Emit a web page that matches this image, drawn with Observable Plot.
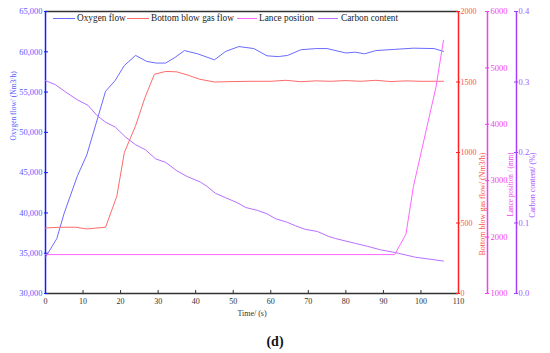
<!DOCTYPE html>
<html><head><meta charset="utf-8">
<script src="https://cdn.jsdelivr.net/npm/d3@7"></script>
<script src="https://cdn.jsdelivr.net/npm/@observablehq/plot@0.6"></script>
<style>
body{margin:0;background:#fff;font-family:"Liberation Serif","Times New Roman",Times,serif;}
#wrap{position:relative;width:550px;height:325px;}
#wrap svg{position:absolute;left:0;top:0;}
.leg{position:absolute;font-size:9.3px;color:#222;line-height:12px;top:12px;white-space:nowrap;}
.sw{position:absolute;height:0;top:18px;border-top:1px solid;}
#cap{width:550px;text-align:center;font-weight:bold;font-size:14px;line-height:16px;margin-top:9px;color:#111;}
</style>
</head><body>
<div id="wrap"></div>
<div id="cap">(d)</div>
<script>
// ---- data ----
const seriesNames = ["Oxygen flow", "Bottom blow gas flow", "Lance position", "Carbon content"];
const oxygenTime = [0, 3, 5, 8.5, 11, 16, 18.5, 21, 24, 27, 29.5, 32, 34.5, 37, 40.5, 45, 48, 51.5, 55.5, 59, 62, 64.5, 68, 72, 75, 80, 82.5, 85, 88, 93, 98, 103.5, 106];
const oxygenFlow = [34500, 36800, 40000, 44600, 47200, 55100, 56400, 58300, 59550, 58800, 58600, 58600, 59300, 60150, 59750, 59000, 60050, 60650, 60400, 59500, 59400, 59550, 60250, 60400, 60400, 59850, 59950, 59750, 60150, 60300, 60450, 60400, 60050];
const bottomTime = [0, 4, 8, 11, 16, 19, 21, 24, 26.5, 29, 32, 35, 38, 41, 45, 50, 55, 60, 64, 68, 72, 76, 80, 84, 88, 92, 96, 100, 106];
const bottomFlow = [465, 470, 470, 458, 470, 690, 1000, 1190, 1390, 1555, 1575, 1572, 1548, 1520, 1500, 1503, 1505, 1505, 1512, 1502, 1508, 1505, 1510, 1505, 1512, 1503, 1508, 1505, 1505];
const lanceTime = [0, 93, 96, 98, 104, 106];
const lancePos = [1690, 1690, 2050, 2900, 4660, 5490];
const carbonTime = [0, 2.7, 5.3, 8.4, 11.3, 13.8, 16, 18.6, 21.3, 24, 26.6, 29.3, 32, 35, 37.7, 41.3, 43, 45.3, 47.9, 51, 53.3, 56.4, 59, 61.3, 64.4, 66.6, 69.2, 72.4, 75.4, 77.2, 82.6, 85.7, 89.2, 93.2, 98.5, 106];
const carbonContent = [0.302, 0.296, 0.286, 0.275, 0.267, 0.252, 0.243, 0.236, 0.222, 0.211, 0.204, 0.191, 0.186, 0.174, 0.166, 0.158, 0.152, 0.142, 0.136, 0.129, 0.122, 0.118, 0.113, 0.106, 0.101, 0.096, 0.091, 0.088, 0.081, 0.078, 0.071, 0.067, 0.062, 0.058, 0.0515, 0.046];
const xTicks = [0, 10, 20, 30, 40, 50, 60, 70, 80, 90, 100, 110];
const oxygenTicks = [30000, 35000, 40000, 45000, 50000, 55000, 60000, 65000];
const bottomTicks = [0, 500, 1000, 1500, 2000];
const lanceTicks = [1000, 2000, 3000, 4000, 5000, 6000];
const carbonTicks = [0, 0.1, 0.2, 0.3, 0.4];
const xLabel = "Time/ (s)";
const yLabels = ["Oxygen flow/ (Nm3/h)", "Bottom blow gas flow/ (Nm3/h)", "Lance position / (mm)", "Carbon content/ (%)"];

// ---- styling ----
const colors = {oxy: "#6b6bff", oxyAxis: "#1a1aff", oxyText: "#5a5aff",
  red: "#ff6a6a", redAxis: "#ff2020", redText: "#ff5050",
  lance: "#ff66ff", lanceAxis: "#f040f0", lanceText: "#f040f0",
  carbon: "#b870ff", carbonAxis: "#a040ff", carbonText: "#a855ff"};
const serif = "Liberation Serif, Times New Roman, Times, serif";
const W = 550, H = 325;
function opts(mr, extra) {
  return Object.assign({width: W, height: H, marginLeft: 45, marginRight: mr, marginTop: 11, marginBottom: 32,
    style: {background: "transparent", fontFamily: serif, overflow: "visible"}}, extra);
}
const rows = (ts, vs) => ts.map((t, i) => ({t, v: vs[i]}));
const wrap = document.getElementById("wrap");
const intFmt = d3.format("d");

// base: oxygen + frame + x axis
wrap.appendChild(Plot.plot(opts(92, {
  x: {domain: [0, 110], axis: null},
  y: {domain: [30000, 65000], axis: null},
  marks: [
    Plot.ruleY([65000], {stroke: "#333", strokeWidth: 1.3}),
    Plot.ruleY([30000], {stroke: "#333", strokeWidth: 1.5}),
    Plot.axisX(xTicks, {tickSize: 4, insetBottom: 3, stroke: "#333", fill: "none", label: null}),
    Plot.axisX(xTicks, {tickSize: 0, tickPadding: 5, tickFormat: intFmt, fill: "#333", fontSize: 8, label: null}),
    Plot.ruleX([0], {stroke: colors.oxyAxis, strokeWidth: 1.5}),
    Plot.axisY(oxygenTicks, {tickSize: 4, insetLeft: 3, stroke: colors.oxyAxis, fill: "none", label: null}),
    Plot.axisY(oxygenTicks, {tickSize: 0, tickPadding: 3, tickFormat: d3.format(","), fill: colors.oxyText, fontSize: 8.5, label: null}),
    Plot.text([xLabel], {text: d => d, frameAnchor: "bottom", dy: 22, fill: "#333", fontSize: 8}),
    Plot.text([yLabels[0]], {text: d => d, frameAnchor: "left", dx: -32, dy: -12, rotate: -90, fill: colors.oxyText, fontSize: 7.5}),
    Plot.line(rows(oxygenTime, oxygenFlow), {x: "t", y: "v", stroke: colors.oxy, strokeWidth: 1})
  ]
})));

// bottom blow gas flow (right axis at plot edge)
wrap.appendChild(Plot.plot(opts(92, {
  x: {domain: [0, 110], axis: null},
  y: {domain: [0, 2000], axis: null},
  marks: [
    Plot.ruleX([110], {stroke: colors.redAxis, strokeWidth: 1.5}),
    Plot.axisY(bottomTicks, {anchor: "right", tickSize: 4, insetRight: 3, stroke: colors.redAxis, fill: "none", label: null}),
    Plot.axisY(bottomTicks, {anchor: "right", tickSize: 0, tickPadding: 2, tickFormat: intFmt, fill: colors.redText, fontSize: 8, label: null}),
    Plot.text([yLabels[1]], {text: d => d, frameAnchor: "right", dx: 24, rotate: -90, fill: colors.redText, fontSize: 8}),
    Plot.line(rows(bottomTime, bottomFlow), {x: "t", y: "v", stroke: colors.red, strokeWidth: 1})
  ]
})));

// lance axis (offset)
wrap.appendChild(Plot.plot(opts(63, {
  x: {domain: [0, 1], axis: null},
  y: {domain: [1000, 6000], axis: null},
  marks: [
    Plot.ruleX([1], {stroke: colors.lanceAxis, strokeWidth: 1.5}),
    Plot.axisY(lanceTicks, {anchor: "right", tickSize: 4, insetRight: 3, stroke: colors.lanceAxis, fill: "none", label: null}),
    Plot.axisY(lanceTicks, {anchor: "right", tickSize: 0, tickPadding: 3, tickFormat: intFmt, fill: colors.lanceText, fontSize: 8.5, label: null}),
    Plot.text([yLabels[2]], {text: d => d, frameAnchor: "right", dx: 23, rotate: -90, fill: colors.lanceText, fontSize: 7.2})
  ]
})));

// carbon axis (offset)
wrap.appendChild(Plot.plot(opts(34, {
  x: {domain: [0, 1], axis: null},
  y: {domain: [0, 0.4], axis: null},
  marks: [
    Plot.ruleX([1], {stroke: colors.carbonAxis, strokeWidth: 1.5}),
    Plot.axisY(carbonTicks, {anchor: "right", tickSize: 4, insetRight: 3, stroke: colors.carbonAxis, fill: "none", label: null}),
    Plot.axisY(carbonTicks, {anchor: "right", tickSize: 0, tickPadding: 2, tickFormat: d3.format(".1f"), fill: colors.carbonText, fontSize: 8.5, label: null}),
    Plot.text([yLabels[3]], {text: d => d, frameAnchor: "right", dx: 16, rotate: -90, fill: colors.carbonText, fontSize: 8})
  ]
})));

// lance line
wrap.appendChild(Plot.plot(opts(92, {
  x: {domain: [0, 110], axis: null},
  y: {domain: [1000, 6000], axis: null},
  marks: [Plot.line(rows(lanceTime, lancePos), {x: "t", y: "v", stroke: colors.lance, strokeWidth: 1})]
})));

// carbon line
wrap.appendChild(Plot.plot(opts(92, {
  x: {domain: [0, 110], axis: null},
  y: {domain: [0, 0.4], axis: null},
  marks: [Plot.line(rows(carbonTime, carbonContent), {x: "t", y: "v", stroke: colors.carbon, strokeWidth: 1})]
})));

// legend
const legPos = [[53, 22, 77], [127, 22, 151], [237, 20, 259], [318, 20, 341]];
const legColors = [colors.oxy, colors.red, colors.lance, colors.carbon];
seriesNames.forEach((name, i) => {
  const [lx, lw, tx] = legPos[i];
  const sw = document.createElement("div");
  sw.className = "sw"; sw.style.left = lx + "px"; sw.style.width = lw + "px"; sw.style.borderTopColor = legColors[i];
  wrap.appendChild(sw);
  const t = document.createElement("div");
  t.className = "leg"; t.style.left = tx + "px"; t.textContent = name;
  wrap.appendChild(t);
});
</script>
</body></html>
